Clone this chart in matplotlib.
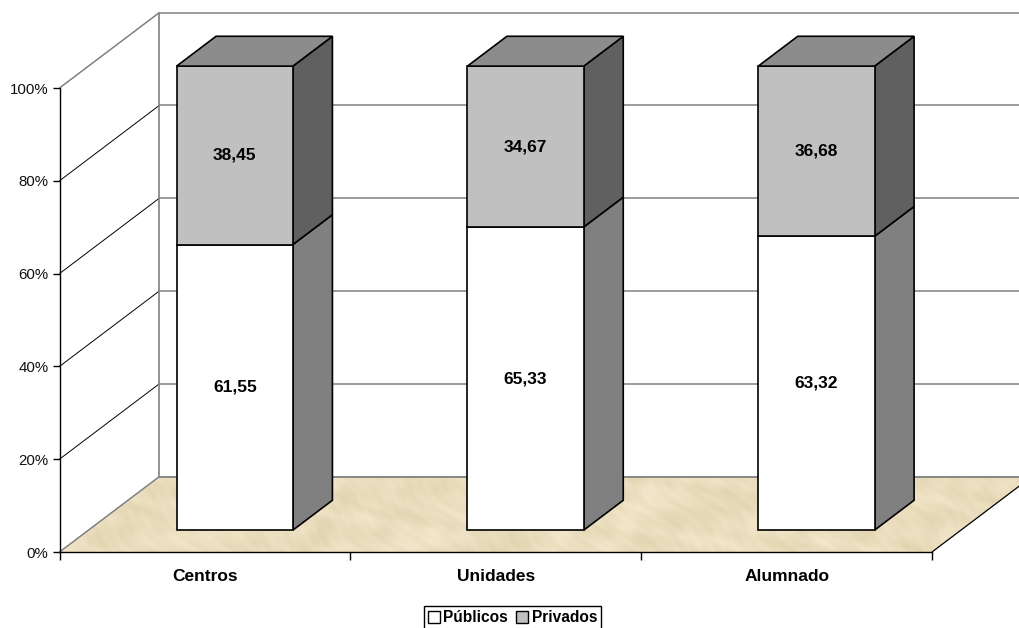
import numpy as np
from matplotlib import pyplot as plt
from matplotlib.patches import Polygon, Patch

categorias = ["Centros", "Unidades", "Alumnado"]
publicos = [61.55, 65.33, 63.32]
privados = [38.45, 34.67, 36.68]
etiquetas_pub = ["61,55", "65,33", "63,32"]
etiquetas_priv = ["38,45", "34,67", "36,68"]
yticks = [0, 20, 40, 60, 80, 100]

W, H = 1019, 628
# offset of the back wall, in data units (one category wide, 0-100 tall)
DX = 100 / 291.0
DY = 75.5 / 4.64
BAR_W = 0.4
BAR_C = 0.503
D0 = 0.29
D1 = 0.685

plt.rcParams['font.family'] = ['Liberation Sans', 'DejaVu Sans']
fig = plt.figure(figsize=(W / 100, H / 100), dpi=100)
ax = fig.add_axes([59.5 / W, (H - 552) / H, (932 - 59.5) / W, 464 / H])
ax.patch.set_visible(False)


def p(x, y, d=0.0):
    # front plane point pushed back to depth d
    return (x + d * DX, y + d * DY)


def poly(pts, **kw):
    kw.setdefault('clip_on', False)
    ax.add_patch(Polygon(pts, closed=True, **kw))


def line(a, b, color, lw, z=2):
    ax.plot([a[0], b[0]], [a[1], b[1]], color=color, lw=lw, clip_on=False, zorder=z,
            solid_capstyle='butt')


# floor, sand look made of a few overlaid waves
suelo = Polygon([p(0, 0), p(0, 0, 1), p(3, 0, 1), p(3, 0)], closed=True, facecolor='none',
                edgecolor='none', transform=ax.transData, clip_on=False)
ax.add_patch(suelo)
gx, gy = np.meshgrid(np.linspace(0, 1, 970), np.linspace(0, 1, 76))
ondas = (np.sin(40 * gx + 5 * gy + 2 * np.sin(9 * gy + 7 * gx))
         + 0.8 * np.sin(67 * gx - 6 * gy + 1 + 2 * np.sin(23 * gx))
         + 0.6 * np.sin(190 * gx + 14 * gy + 2 * np.sin(11 * gy))
         + 0.4 * np.sin(430 * gx + 31 * gy + 3 * np.sin(29 * gx - 5 * gy))) / 2.8
base_color = np.array([234, 222, 190]) / 255.0
tono = np.array([9, 10, 14]) / 255.0
img = np.clip(base_color + ondas[..., None] * tono, 0, 1)
im = ax.imshow(img, extent=[p(0, 0)[0], p(3, 0, 1)[0], 0, DY], origin='lower', aspect='auto',
               zorder=1, interpolation='bilinear')
im.set_clip_box(fig.bbox)
im.set_clip_path(suelo)
ax.set_xlim(0, 3)
ax.set_ylim(0, 100)

line(p(0, 0), p(0, 0, 1), '#808080', 1.1)
line(p(0, 0, 1), p(3, 0, 1), '#808080', 1.3)
line(p(3, 0), p(3, 0, 1), 'black', 0.9)

# walls
for v in yticks[1:]:
    gris = v == 100
    line(p(0, v), p(0, v, 1), '#808080' if gris else 'black', 1.1 if gris else 0.7)
    line(p(0, v, 1), p(3, v, 1), '#808080', 1.1)
line(p(0, 0, 1), p(0, 100, 1), '#808080', 1.2)

# bars
for i in range(3):
    x0 = i + BAR_C - BAR_W / 2
    x1 = i + BAR_C + BAR_W / 2
    for base, alto, cara, lado, txt in [
        (0, publicos[i], 'white', '#808080', etiquetas_pub[i]),
        (publicos[i], privados[i], '#C0C0C0', '#606060', etiquetas_priv[i]),
    ]:
        top = base + alto
        ec = dict(edgecolor='black', linewidth=1.2, joinstyle='miter', zorder=5)
        poly([p(x1, base, D0), p(x1, base, D1), p(x1, top, D1), p(x1, top, D0)], facecolor=lado, **ec)
        poly([p(x0, base, D0), p(x1, base, D0), p(x1, top, D0), p(x0, top, D0)], facecolor=cara, **ec)
        cx, cy = p(i + BAR_C, base + alto / 2, D0)
        ax.text(cx, cy, txt, ha='center', va='center', fontsize=12.5, fontweight='bold',
                color='black', zorder=7)
    poly([p(x0, 100, D0), p(x1, 100, D0), p(x1, 100, D1), p(x0, 100, D1)],
         facecolor='#8C8C8C', edgecolor='black', linewidth=1.2, joinstyle='miter', zorder=5)

# axes
for s in ['top', 'right']:
    ax.spines[s].set_visible(False)
for s in ['left', 'bottom']:
    ax.spines[s].set_linewidth(1.0)
    ax.spines[s].set_zorder(4)
ax.set_yticks(yticks)
ax.set_yticklabels([f"{v}%" for v in yticks], fontsize=10.8, color='#111111')
ax.set_xticks([0, 1, 2, 3])
ax.set_xticklabels([])
ax.set_xticks([0.5, 1.5, 2.5], labels=categorias, minor=True, fontsize=12.5, fontweight='bold')
ax.tick_params(axis='x', which='major', length=5.6, width=1.0)
ax.tick_params(axis='x', which='minor', length=0, pad=12.5)
ax.tick_params(axis='y', length=5.4, width=1.0, pad=2.5)

handles = [Patch(facecolor='white', edgecolor='black', label='Públicos'),
           Patch(facecolor='#C0C0C0', edgecolor='black', label='Privados')]
leg = fig.legend(handles=handles, loc='center', bbox_to_anchor=(512.5 / W, (H - 618) / H), ncol=2,
                 fontsize=11.2, frameon=True, fancybox=False, edgecolor='black', framealpha=1,
                 handlelength=0.75, handleheight=0.75, handletextpad=0.25, columnspacing=0.5,
                 borderpad=0.45, borderaxespad=0)
leg._legend_box.pad = 3
leg.get_frame().set_linewidth(1.0)
for t in leg.get_texts():
    t.set_fontweight('bold')

fig.savefig('out.png', dpi=100)
